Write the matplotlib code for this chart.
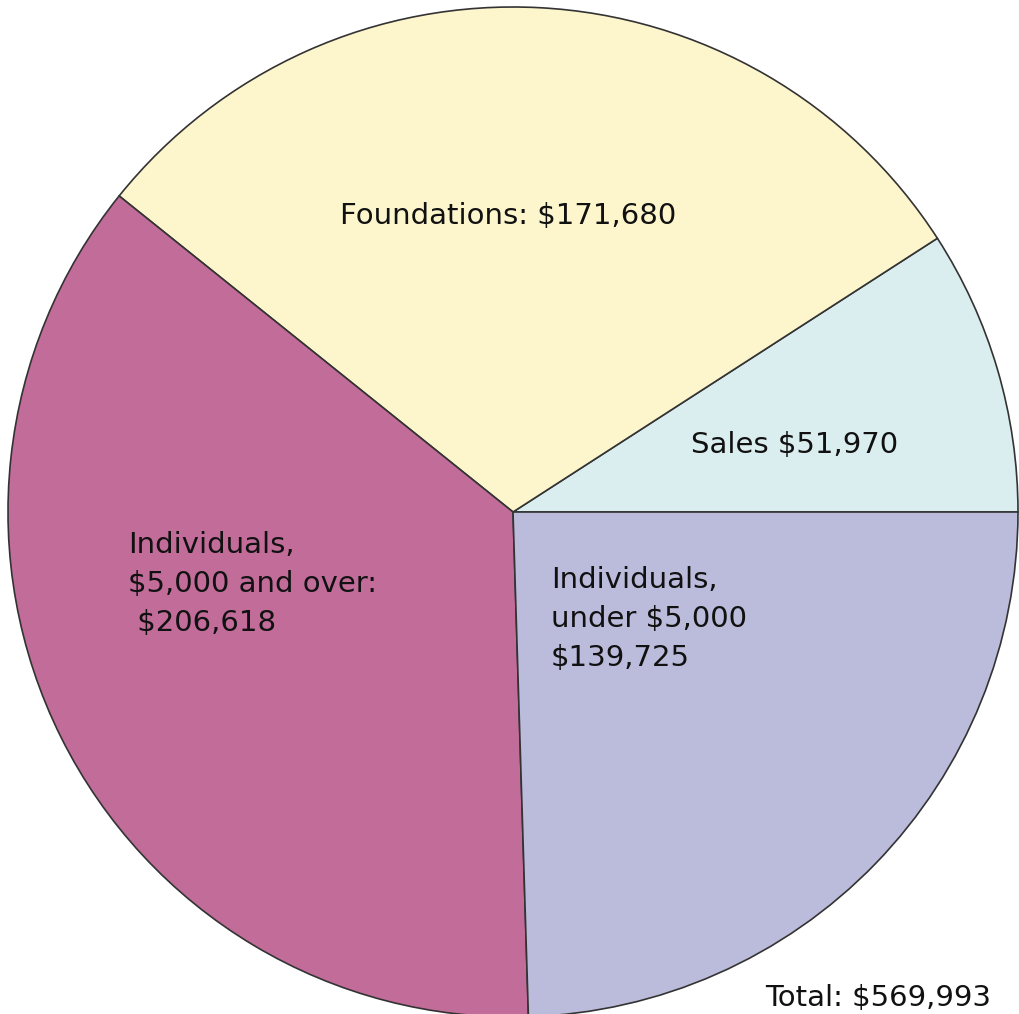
import matplotlib
matplotlib.use("Agg")
import matplotlib.pyplot as plt

categories = ["Sales", "Foundations", "Individuals, $5,000 and over", "Individuals, under $5,000"]
amounts = [51970, 171680, 206618, 139725]
colors = ["#daedef", "#fdf6cd", "#c26c9a", "#bbbbdb"]

label_texts = [
    "Sales $51,970",
    "Foundations: $171,680",
    "Individuals,\n$5,000 and over:\n $206,618",
    "Individuals,\nunder $5,000\n$139,725",
]
total_text = "Total: $569,993"

plt.rcParams["font.family"] = ["DejaVu Sans"]

W, H = 1020, 1014
fig = plt.figure(figsize=(W / 100, H / 100), dpi=100)
ax = fig.add_axes([0, 0, 1, 1])

# pie in pixel coords (y axis points down, so go clockwise to look counter-clockwise)
ax.pie(amounts, colors=colors, startangle=0, counterclock=False,
       center=(513, 512), radius=505, frame=True,
       wedgeprops=dict(edgecolor="#333333", linewidth=1.2))
ax.set_xlim(0, W)
ax.set_ylim(H, 0)
ax.axis("off")

label_pos = [(691, 445), (340, 216), (128, 584), (551, 619)]
for txt, (x, y) in zip(label_texts, label_pos):
    ax.text(x, y, txt, fontsize=21, ha="left", va="center",
            linespacing=1.52, color="#111111")

ax.text(765, 998, total_text, fontsize=21, ha="left", va="center", color="#111111")

fig.savefig("out.png", dpi=100)
